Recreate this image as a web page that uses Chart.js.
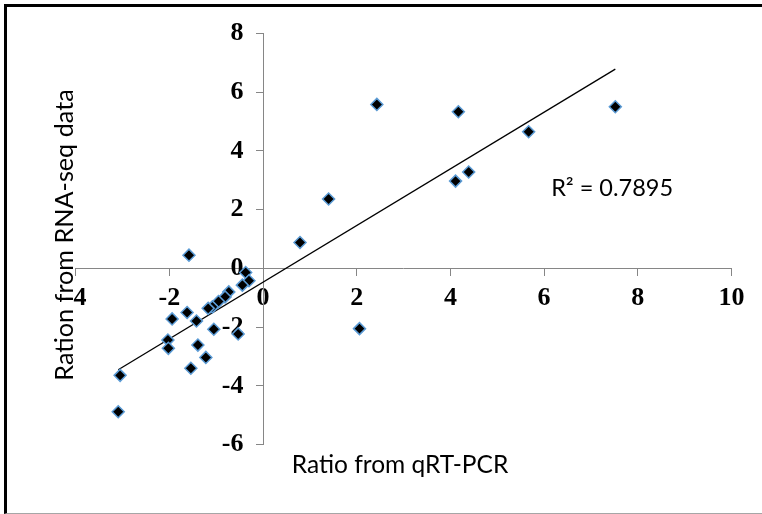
<!DOCTYPE html>
<html>
<head>
<meta charset="utf-8">
<script src="https://cdn.jsdelivr.net/npm/chart.js@4.4.1/dist/chart.umd.min.js"></script>
<style>
  html, body { margin: 0; padding: 0; background: #fff; overflow: hidden; }
  #wrap { position: relative; width: 762px; height: 514px; overflow: hidden; }
  #frame {
    position: absolute; left: 4px; top: 4px; width: 780px; height: 510px;
    box-sizing: border-box; border-top: 3px solid #000; border-left: 3px solid #000;
    border-bottom: 1px solid #a6a6a6; pointer-events: none;
  }
</style>
</head>
<body>
<div id="wrap">
  <canvas id="scatterChart" width="762" height="514"></canvas>
  <div id="frame"></div>
</div>
<script>
// values
const qpcrRatio = [2.43, 4.17, 7.52, 5.67, 4.39, 4.11, 1.40, 0.79, 2.06, -1.58,
  -0.37, -0.30, -0.44, -0.73, -0.81, -0.95, -1.08, -1.17, -1.62, -1.94,
  -1.42, -1.05, -0.53, -2.03, -2.02, -1.39, -1.22, -1.54, -3.05, -3.09];
const rnaseqRatio = [5.58, 5.33, 5.50, 4.65, 3.28, 2.97, 2.36, 0.88, -2.05, 0.45,
  -0.14, -0.42, -0.57, -0.80, -0.97, -1.13, -1.31, -1.36, -1.50, -1.72,
  -1.79, -2.07, -2.23, -2.44, -2.72, -2.61, -3.03, -3.40, -3.64, -4.88];

// trend line ends (Excel linear trendline)
const trendX = [-3.09, 7.52];
const trendY = [-3.45, 6.78];
const rSquaredText = 'R² = 0.7895';
const rSquaredAt = [6.15, 2.45];

const xTitle = 'Ratio from qRT-PCR';
const yTitle = 'Ration from RNA-seq data';

const tickFont = { family: '"Liberation Serif", "Times New Roman", serif', size: 26, weight: 'bold' };
const labelFont = 'Lato, "Open Sans", sans-serif';
const axisGrey = '#868686';

// axis titles and the R² note
const textPlugin = {
  id: 'chartText',
  afterDraw(chart) {
    const ctx = chart.ctx;
    const { x, y } = chart.scales;
    ctx.save();
    ctx.fillStyle = '#000';
    ctx.textBaseline = 'alphabetic';

    ctx.font = '24.5px ' + labelFont;
    ctx.textAlign = 'center';
    ctx.fillText(xTitle, 400, 473);

    ctx.save();
    ctx.font = '25.2px ' + labelFont;
    ctx.translate(73, 235);
    ctx.rotate(-Math.PI / 2);
    ctx.fillText(yTitle, 0, 0);
    ctx.restore();

    ctx.font = '23.5px ' + labelFont;
    ctx.textAlign = 'left';
    ctx.fillText(rSquaredText, x.getPixelForValue(rSquaredAt[0]), y.getPixelForValue(rSquaredAt[1]));
    ctx.restore();
  }
};

const ctx = document.getElementById('scatterChart').getContext('2d');
new Chart(ctx, {
  type: 'scatter',
  data: {
    datasets: [
      {
        type: 'line',
        label: 'Linear trend',
        data: trendX.map((v, i) => ({ x: v, y: trendY[i] })),
        borderColor: '#000',
        borderWidth: 1.3,
        pointRadius: 0,
        fill: false,
        order: 2
      },
      {
        label: 'Ratio',
        data: qpcrRatio.map((v, i) => ({ x: v, y: rnaseqRatio[i] })),
        pointStyle: 'rectRot',
        pointRadius: 6,
        backgroundColor: '#000',
        borderColor: '#5b9bd5',
        borderWidth: 1.5,
        order: 1
      }
    ]
  },
  options: {
    responsive: false,
    devicePixelRatio: 1,
    animation: false,
    layout: { padding: { left: 75.6, right: 30.5, top: 33.3, bottom: 69.3 } },
    plugins: {
      legend: { display: false },
      tooltip: { enabled: false }
    },
    scales: {
      x: {
        type: 'linear',
        position: { y: 0 },
        min: -4, max: 10,
        afterFit: s => { s.height = 0; },
        ticks: { stepSize: 2, font: tickFont, color: '#000', padding: 7, maxRotation: 0 },
        grid: { drawOnChartArea: false, drawTicks: true, tickLength: 7, color: axisGrey },
        border: { color: axisGrey, width: 1 }
      },
      y: {
        type: 'linear',
        position: { x: 0 },
        min: -6, max: 8,
        afterFit: s => { s.width = 0; },
        ticks: { stepSize: 2, font: tickFont, color: '#000', padding: 3, callback: v => v + '   ' },
        grid: { drawOnChartArea: false, drawTicks: true, tickLength: 7, color: axisGrey },
        border: { color: axisGrey, width: 1 }
      }
    }
  },
  plugins: [textPlugin]
});
</script>
</body>
</html>
